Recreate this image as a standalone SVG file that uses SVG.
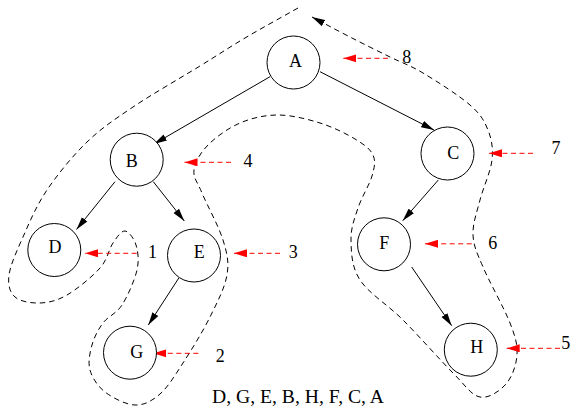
<svg xmlns="http://www.w3.org/2000/svg" width="571" height="406" viewBox="0 0 571 406">
<style>
.node circle{fill:#fff;stroke:#000;stroke-width:1}
text{font-family:"Liberation Serif","Times New Roman",serif;font-size:18px;fill:#000;text-anchor:middle}
.edge{stroke:#000;stroke-width:1;fill:none;marker-end:url(#ab)}
.red{stroke:#f00;stroke-width:1;fill:none;stroke-dasharray:5 3.5;marker-end:url(#ar)}
.tour{stroke:#000;stroke-width:1;fill:none;stroke-dasharray:5.5 4;marker-end:url(#ab)}
</style>
<defs>
<marker id="ab" markerUnits="userSpaceOnUse" viewBox="0 0 13 8" refX="13" refY="4" markerWidth="13" markerHeight="8" orient="auto"><path d="M0,0.5 L13,4 L0,7.5 z" fill="#000"/></marker>
<marker id="ar" markerUnits="userSpaceOnUse" viewBox="0 0 13 8" refX="13" refY="4" markerWidth="13" markerHeight="8" orient="auto"><path d="M0,0 L13,4 L0,8 z" fill="#f00"/></marker>
</defs>
<rect width="571" height="406" fill="#fff"/>
<g id="connectors">
<line class="edge" x1="270" y1="76.7" x2="154" y2="144"/>
<line class="edge" x1="320" y1="71.7" x2="434" y2="130"/>
<line class="edge" x1="115" y1="181.7" x2="76.5" y2="229.5"/>
<line class="edge" x1="153.3" y1="181.7" x2="184.3" y2="221"/>
<line class="edge" x1="179" y1="277.7" x2="148.3" y2="325"/>
<line class="edge" x1="438.3" y1="180" x2="402.7" y2="220.7"/>
<line class="edge" x1="411.7" y1="267" x2="451.7" y2="325.7"/>
<path class="tour" d="M298,8 C280.3,18 261.3,28.3 245,38 S218.7,54.5 200,66 S151.8,94.3 133,107 S101.3,128.2 87,142 S57.7,174.2 47,190 S29.3,222.8 23,237 S10.3,265 9,275 S9.8,292.3 15,297 S31.3,303.3 40,303 S57,300.8 67,295 S92.3,276.7 100,268 S108.8,249.2 113,243 S121.2,230.7 125,231 S134,238.5 136,245 S139.3,260 137,270 S127.7,296.2 122,305 S108,316.3 103,323 S94.2,337.2 92,345 S87.8,362.2 90,370 S97.5,386.2 105,392 S125.8,404.7 135,405 S152,401 160,394 S174.7,375.8 183,363 S202.7,331.7 210,317 S224.8,287.8 227,275 S227.2,253.7 223,240 S206.8,204.7 202,193 S193,178 194,170 S200.3,152.8 208,145 S228.3,128 240,123 S264.7,115 278,115 S307.2,119 320,123 S346.2,133.7 355,139 S370.2,148.8 373,155 S374.5,167.2 372,176 S361.5,197.3 358,208 S350.7,228 351,240 S351.3,266.7 360,280 S387.5,304.5 403,320 S440.2,360.2 453,373 S471.2,395.2 480,397 S499.8,391 506,384 S516.3,365.2 517,355 S515.7,337.7 510,323 S489.2,281.7 483,267 S473.5,246.2 473,235 S476.8,212.5 480,200 S490.7,171.7 492,160 S491.7,139.2 488,130 S480.8,114.5 470,105 S436.3,81 423,73 S402.2,63 390,57 S363,43.7 350,37 S324.7,23.7 312,17"/>
<line class="red" x1="388" y1="58.3" x2="343.3" y2="58.3"/>
<line class="red" x1="533" y1="153.3" x2="489" y2="153.3"/>
<line class="red" x1="231" y1="162.3" x2="184.5" y2="162.3"/>
<line class="red" x1="136.7" y1="253.3" x2="85" y2="253.3"/>
<line class="red" x1="280" y1="253.3" x2="234" y2="253.3"/>
<line class="red" x1="198.3" y1="353.3" x2="153.3" y2="353.3"/>
<line class="red" x1="471.7" y1="243.8" x2="425" y2="243.8"/>
<line class="red" x1="560" y1="348.3" x2="506.7" y2="348.3"/>
</g>
<g id="node-A" class="node"><circle cx="293.5" cy="62.5" r="26.5"/><text x="295.5" y="66.7">A</text></g>
<g id="node-B" class="node"><circle cx="136.7" cy="159.7" r="26.5"/><text x="131.7" y="167.3">B</text></g>
<g id="node-C" class="node"><circle cx="447.5" cy="153.5" r="26.5"/><text x="453.3" y="159">C</text></g>
<g id="node-D" class="node"><circle cx="54.3" cy="250" r="26.5"/><text x="55" y="253.3">D</text></g>
<g id="node-E" class="node"><circle cx="194" cy="255.5" r="26.5"/><text x="199.2" y="258.3">E</text></g>
<g id="node-F" class="node"><circle cx="384" cy="244.3" r="26.5"/><text x="384.2" y="249">F</text></g>
<g id="node-G" class="node"><circle cx="130" cy="352.7" r="26.5"/><text x="136.7" y="358.3">G</text></g>
<g id="node-H" class="node"><circle cx="470.8" cy="349.7" r="26.5"/><text x="476.7" y="353.3">H</text></g>
<g id="labels">
<text x="406.7" y="63.3">8</text>
<text x="556" y="154.3">7</text>
<text x="248" y="166.7">4</text>
<text x="152.5" y="258.3">1</text>
<text x="293.3" y="258.3">3</text>
<text x="220.3" y="361.7">2</text>
<text x="492.8" y="249.3">6</text>
<text x="565.8" y="349.3">5</text>
<text x="212" y="402.5" style="text-anchor:start" textLength="172" lengthAdjust="spacingAndGlyphs">D, G, E, B, H, F, C, A</text>
</g>
</svg>
